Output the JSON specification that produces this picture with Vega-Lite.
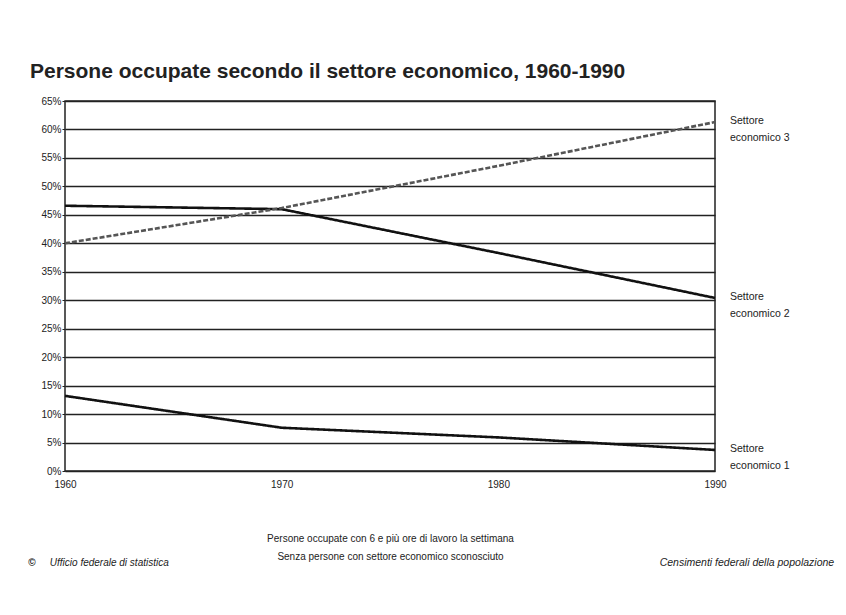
{
  "$schema": "https://vega.github.io/schema/vega-lite/v6.json",
  "autosize": "none",
  "width": 650,
  "height": 370,
  "padding": {"left": 65, "top": 101, "right": 131, "bottom": 144},
  "background": "white",
  "title": {
    "text": "Persone occupate secondo il settore economico, 1960-1990",
    "anchor": "start",
    "frame": "group",
    "dx": -35,
    "offset": 14,
    "font": "Liberation Sans",
    "fontSize": 21,
    "fontWeight": "bold",
    "color": "#222"
  },
  "config": {
    "view": {"stroke": "#222", "strokeWidth": 1.5},
    "font": "Liberation Sans"
  },
  "data": {
    "values": [
      {"year": 1960, "sector": "Settore economico 1", "value": 13.2, "label": "Settore\neconomico 1"},
      {"year": 1970, "sector": "Settore economico 1", "value": 7.6, "label": "Settore\neconomico 1"},
      {"year": 1980, "sector": "Settore economico 1", "value": 5.9, "label": "Settore\neconomico 1"},
      {"year": 1990, "sector": "Settore economico 1", "value": 3.7, "label": "Settore\neconomico 1"},
      {"year": 1960, "sector": "Settore economico 2", "value": 46.6, "label": "Settore\neconomico 2"},
      {"year": 1970, "sector": "Settore economico 2", "value": 46.0, "label": "Settore\neconomico 2"},
      {"year": 1980, "sector": "Settore economico 2", "value": 38.3, "label": "Settore\neconomico 2"},
      {"year": 1990, "sector": "Settore economico 2", "value": 30.4, "label": "Settore\neconomico 2"},
      {"year": 1960, "sector": "Settore economico 3", "value": 40.0, "label": "Settore\neconomico 3"},
      {"year": 1970, "sector": "Settore economico 3", "value": 46.2, "label": "Settore\neconomico 3"},
      {"year": 1980, "sector": "Settore economico 3", "value": 53.6, "label": "Settore\neconomico 3"},
      {"year": 1990, "sector": "Settore economico 3", "value": 61.3, "label": "Settore\neconomico 3"}
    ]
  },
  "encoding": {
    "x": {
      "field": "year", "type": "quantitative",
      "scale": {"domain": [1960, 1990], "nice": false, "zero": false},
      "axis": {
        "values": [1960, 1970, 1980, 1990],
        "format": "d",
        "grid": false,
        "domain": false,
        "ticks": false,
        "labelFlush": false,
        "labelOverlap": false,
        "labelFontSize": 10,
        "labelColor": "#222",
        "labelPadding": 8,
        "title": ["Persone occupate con 6 e più ore di lavoro la settimana", "Senza persone con settore economico sconosciuto"],
        "titleFontSize": 10,
        "titleFontWeight": "normal",
        "titleColor": "#222",
        "titlePadding": 44,
        "titleLineHeight": 18
      }
    },
    "y": {
      "field": "value", "type": "quantitative",
      "scale": {"domain": [0, 65], "nice": false},
      "axis": {
        "values": [0, 5, 10, 15, 20, 25, 30, 35, 40, 45, 50, 55, 60, 65],
        "tickCount": 14,
        "labelExpr": "datum.value + '%'",
        "labelOverlap": false,
        "labelFlush": false,
        "grid": true,
        "gridColor": "#222",
        "gridWidth": 1.3,
        "gridOpacity": 1,
        "domain": false,
        "tickSize": 3,
        "tickColor": "#222",
        "labelFontSize": 10,
        "labelColor": "#222",
        "labelPadding": 1,
        "title": null
      }
    }
  },
  "layer": [
    {
      "mark": {"type": "line", "strokeWidth": 2.6},
      "encoding": {
        "detail": {"field": "sector"},
        "color": {
          "field": "sector", "type": "nominal",
          "scale": {"domain": ["Settore economico 1", "Settore economico 2", "Settore economico 3"], "range": ["#111", "#111", "#555"]},
          "legend": null
        },
        "strokeDash": {
          "field": "sector", "type": "nominal",
          "scale": {"domain": ["Settore economico 1", "Settore economico 2", "Settore economico 3"], "range": [[1, 0], [1, 0], [5, 2]]},
          "legend": null
        }
      }
    },
    {
      "transform": [{"filter": "datum.year == 1990"}],
      "mark": {"type": "text", "align": "left", "baseline": "top", "dx": 15, "dy": -6, "fontSize": 10.5, "lineHeight": 17, "lineBreak": "\n", "color": "#222"},
      "encoding": {
        "text": {"field": "label"}
      }
    },
    {
      "data": {"values": [{"year": 1958.3, "value": -16.2, "t": "©"}]},
      "mark": {"type": "text", "align": "left", "baseline": "middle", "fontSize": 10, "fontWeight": "bold", "color": "#222"},
      "encoding": {
        "text": {"field": "t"}
      }
    },
    {
      "data": {"values": [{"year": 1959.3, "value": -16.2, "t": "Ufficio federale di statistica"}]},
      "mark": {"type": "text", "align": "left", "baseline": "middle", "fontSize": 10, "fontStyle": "italic", "color": "#222"},
      "encoding": {
        "text": {"field": "t"}
      }
    },
    {
      "data": {"values": [{"year": 1995.5, "value": -16.2, "t": "Censimenti federali della popolazione"}]},
      "mark": {"type": "text", "align": "right", "baseline": "middle", "fontSize": 10.5, "fontStyle": "italic", "color": "#222"},
      "encoding": {
        "text": {"field": "t"}
      }
    }
  ]
}
